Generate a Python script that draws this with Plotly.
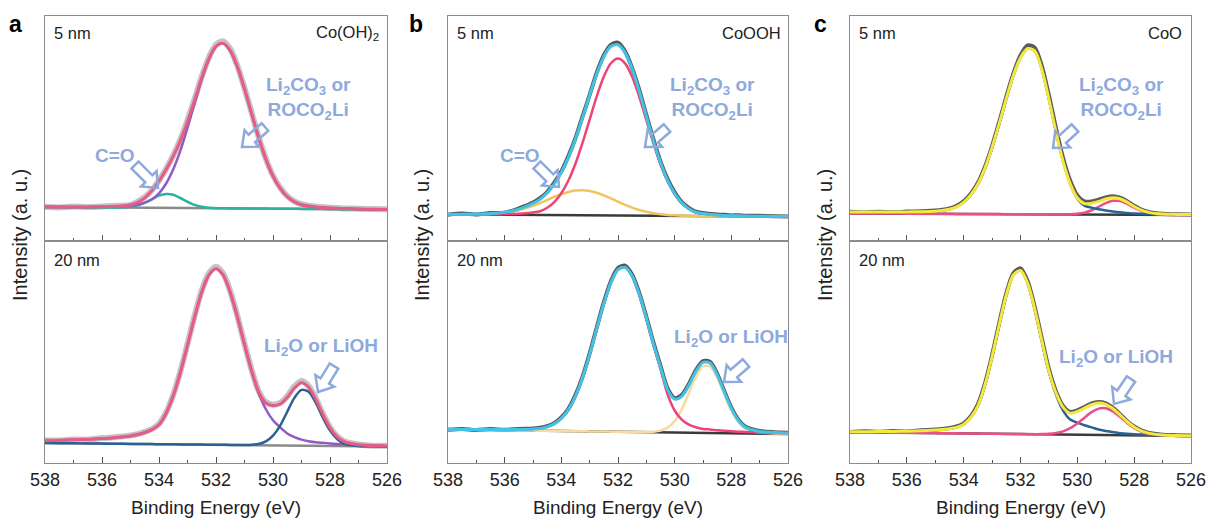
import math
import plotly.graph_objects as go

# ---------------- data (binding energy grid, eV) ----------------
X = [538, 537.5, 537, 536.5, 536, 535.5, 535, 534.75, 534.5, 534.25, 534, 533.75,
     533.5, 533.25, 533, 532.75, 532.5, 532.25, 532, 531.75, 531.5, 531.25, 531,
     530.75, 530.5, 530.25, 530, 529.75, 529.5, 529.25, 529, 528.75, 528.5, 528.25,
     528, 527.75, 527.5, 527, 526.5, 526]
BG_X = [538, 526]

# panel a, 5 nm (Co(OH)2)
A5_raw = [34.3, 33.6, 34.4, 33.9, 34.6, 35.2, 36.0, 39.3, 43.8, 50.9, 60.6, 72.3, 85.6, 101.5, 120.8, 142.1, 164.5, 183.6, 196.4, 199.6, 192.0, 175.2, 152.8, 128.5, 103.6, 82.3, 65.5, 53.4, 44.9, 39.7, 36.8, 35.3, 34.4, 33.9, 33.2, 33.0, 32.6, 32.3, 31.9, 31.7]
A5_env = [34.0, 33.9, 34.0, 34.1, 34.3, 34.7, 36.3, 38.6, 43.2, 50.2, 59.8, 71.4, 84.8, 100.4, 119.4, 141.0, 163.2, 182.3, 194.6, 197.6, 190.3, 174.3, 152.1, 127.4, 103.0, 81.8, 64.9, 52.7, 44.4, 39.2, 36.3, 34.9, 34.0, 33.5, 33.0, 32.7, 32.4, 32.0, 31.7, 31.5]
A5_main = [34.0, 33.9, 34.0, 34.1, 34.3, 34.6, 35.4, 36.3, 38.3, 41.7, 47.7, 57.5, 71.7, 90.4, 113.1, 137.8, 161.9, 181.8, 194.5, 197.6, 190.3, 174.3, 152.1, 127.4, 103.0, 81.8, 64.9, 52.7, 44.4, 39.2, 36.3, 34.9, 34.0, 33.5, 33.0, 32.7, 32.4, 32.0, 31.7, 31.5]
A5_co = [34.0, 33.9, 33.8, 33.7, 33.6, 33.6, 34.3, 35.6, 38.2, 41.7, 45.3, 47.0, 46.2, 43.0, 39.3, 36.1, 34.2, 33.25, 32.85, 32.7, 32.6, 32.6, 32.5, 32.5, 32.4, 32.4, 32.3, 32.3, 32.2, 32.2, 32.1, 32.1, 32.0, 32.0, 31.9, 31.9, 31.8, 31.7, 31.6, 31.5]
A5_bg = [34.0, 31.5]

# panel a, 20 nm
A20_raw = [22.8, 22.5, 23.6, 23.4, 24.9, 25.9, 27.6, 28.9, 31.1, 34.0, 39.2, 50.6, 68.3, 91.6, 119.2, 147.4, 172.5, 189.8, 196.3, 189.6, 171.8, 147.0, 119.3, 93.0, 71.8, 60.8, 58.3, 60.0, 66.8, 76.6, 82.0, 77.0, 64.6, 49.2, 35.7, 26.7, 21.8, 18.6, 17.2, 17.3]
A20_env = [22.5, 22.85, 23.2, 23.75, 24.4, 25.6, 27.1, 28.55, 30.5, 33.4, 38.3, 49.75, 67.2, 90.5, 117.85, 146.0, 170.9, 188.1, 194.25, 188.0, 170.6, 146.0, 118.55, 92.25, 71.06, 60.0, 57.5, 59.0, 65.5, 75.0, 80.3, 75.7, 63.8, 48.55, 35.1, 26.1, 21.3, 18.2, 17.45, 17.0]
A20_main = [22.5, 22.85, 23.2, 23.75, 24.4, 25.6, 27.1, 28.55, 30.5, 33.4, 38.3, 49.75, 67.2, 90.5, 117.85, 146.0, 170.9, 188.1, 194.25, 188.0, 170.6, 146.0, 118.5, 91.9, 69.8, 53.75, 42.7, 35.6, 29.5, 25.95, 23.4, 21.8, 20.7, 20.15, 19.6, 19.1, 18.7, 18.0, 17.45, 17.0]
A20_li = [20.0, 19.85, 19.7, 19.55, 19.4, 19.3, 19.1, 19.05, 19.0, 18.9, 18.8, 18.75, 18.7, 18.6, 18.55, 18.5, 18.4, 18.3, 18.25, 18.2, 18.1, 18.05, 18.0, 18.25, 19.06, 21.55, 27.3, 37.3, 51.3, 65.15, 73.1, 71.2, 60.3, 45.55, 32.6, 24.0, 19.5, 17.0, 16.65, 16.5]
A20_bg = [20.0, 16.5]

# panel b, 5 nm (CoOOH)
B5_raw = [26.3, 27.4, 26.5, 28.0, 28.3, 32.6, 38.4, 42.9, 49.0, 58.3, 69.6, 84.9, 103.0, 124.6, 146.3, 168.4, 185.8, 196.2, 198.4, 189.6, 172.9, 151.2, 126.1, 101.6, 79.3, 61.8, 48.6, 38.9, 33.2, 29.3, 27.9, 27.1, 26.4, 26.2, 25.6, 25.8, 25.3, 25.2, 24.8, 24.6]
B5_env = [26.8, 26.8, 26.95, 27.45, 28.75, 31.85, 37.6, 41.7, 48.2, 57.0, 68.7, 83.65, 102.15, 123.35, 145.7, 167.15, 184.4, 194.75, 196.3, 188.35, 172.15, 149.95, 125.0, 100.35, 78.45, 60.7, 47.45, 38.25, 32.35, 28.75, 27.4, 26.45, 25.9, 25.55, 25.3, 25.15, 25.0, 24.75, 24.55, 24.4]
B5_main = [26.8, 26.75, 26.75, 26.8, 26.9, 27.3, 28.6, 29.8, 33.2, 38.85, 47.7, 60.45, 77.5, 98.35, 121.5, 144.55, 164.4, 177.75, 182.5, 177.65, 164.2, 144.25, 121.1, 97.85, 76.9, 59.75, 46.9, 37.95, 32.2, 28.7, 27.4, 26.45, 25.9, 25.55, 25.3, 25.15, 25.0, 24.75, 24.55, 24.4]
B5_co = [26.7, 26.65, 26.7, 27.05, 28.15, 30.75, 35.1, 37.95, 41.0, 44.1, 46.9, 49.05, 50.45, 50.75, 49.9, 48.25, 45.6, 42.55, 39.3, 36.15, 33.35, 31.05, 29.2, 27.75, 26.75, 26.1, 25.65, 25.35, 25.15, 25.0, 24.9, 24.85, 24.8, 24.75, 24.7, 24.65, 24.6, 24.5, 24.4, 24.3]
B5_bg = [26.7, 24.3]

# panel b, 20 nm
B20_raw = [33.2, 34.1, 33.0, 33.9, 33.2, 34.0, 34.4, 35.3, 36.8, 39.9, 45.6, 54.2, 68.1, 86.4, 109.7, 135.5, 160.8, 181.7, 194.9, 197.4, 188.3, 170.2, 146.3, 120.6, 97.1, 74.6, 64.9, 67.9, 78.9, 92.9, 102.0, 101.0, 89.2, 71.9, 55.4, 43.3, 36.2, 32.1, 30.8, 30.3]
B20_env = [33.7, 33.6, 33.5, 33.45, 33.45, 33.55, 34.0, 34.6, 36.1, 39.2, 44.7, 53.35, 67.0, 85.5, 108.6, 134.35, 159.55, 180.45, 193.35, 195.75, 187.05, 169.05, 145.2, 119.4, 96.0, 73.4, 64.0, 66.7, 77.8, 91.7, 100.7, 99.95, 88.15, 70.95, 54.45, 42.55, 35.65, 31.6, 30.5, 29.9]
B20_main = [33.7, 33.6, 33.5, 33.45, 33.45, 33.55, 34.0, 34.6, 36.1, 39.2, 44.7, 53.35, 67.0, 85.5, 108.6, 134.35, 159.55, 180.45, 193.35, 195.75, 187.05, 169.05, 145.1, 118.9, 94.3, 68.6, 52.5, 43.4, 38.3, 35.7, 34.1, 33.55, 32.75, 32.15, 31.75, 31.35, 31.05, 30.6, 30.1, 29.7]
B20_li = [33.5, 33.3, 33.1, 32.95, 32.75, 32.55, 32.4, 32.3, 32.2, 32.1, 32.0, 31.9, 31.8, 31.7, 31.6, 31.55, 31.45, 31.35, 31.25, 31.15, 31.05, 30.95, 31.0, 31.3, 32.35, 35.4, 42.0, 53.7, 69.8, 86.2, 96.7, 96.45, 85.35, 68.65, 52.45, 40.85, 34.15, 30.4, 29.6, 29.2]
B20_bg = [33.5, 29.0]

# panel c, 5 nm (CoO)
C5_raw = [29.2, 28.6, 29.3, 28.7, 29.4, 29.8, 30.4, 31.2, 32.6, 35.3, 39.8, 47.3, 58.2, 74.3, 95.0, 119.0, 144.2, 167.6, 185.5, 195.6, 193.4, 175.0, 145.6, 112.6, 82.7, 60.3, 45.6, 39.5, 39.5, 41.3, 43.6, 44.8, 43.3, 39.8, 35.2, 31.5, 29.1, 27.2, 26.8, 26.5]
C5_env = [28.9, 28.9, 28.95, 28.95, 29.05, 29.3, 29.8, 30.45, 31.7, 34.2, 38.65, 46.1, 56.95, 72.95, 93.5, 117.45, 142.5, 165.7, 183.35, 192.5, 190.1, 171.55, 141.85, 108.85, 79.25, 57.15, 43.0, 37.35, 37.7, 39.6, 42.05, 43.35, 42.2, 38.9, 34.45, 30.9, 28.65, 26.9, 26.6, 26.4]
C5_main = [28.9, 28.9, 28.95, 28.95, 29.05, 29.3, 29.8, 30.45, 31.7, 34.2, 38.65, 46.1, 56.95, 72.95, 93.5, 117.45, 142.5, 165.7, 183.35, 192.5, 190.1, 171.55, 141.85, 108.85, 79.25, 56.95, 42.3, 35.45, 33.4, 31.85, 30.6, 29.55, 28.7, 28.1, 27.45, 27.2, 27.05, 26.75, 26.6, 26.4]
C5_li = [27.6, 27.55, 27.45, 27.4, 27.35, 27.25, 27.2, 27.15, 27.15, 27.1, 27.05, 27.05, 27.0, 26.95, 26.95, 26.9, 26.85, 26.85, 26.8, 26.75, 26.75, 26.7, 26.65, 26.65, 26.6, 26.75, 27.25, 28.4, 30.75, 34.2, 37.85, 40.15, 39.85, 37.1, 33.25, 29.95, 27.8, 26.3, 26.05, 26.0]
C5_bg = [27.6, 26.0]

# panel c, 20 nm
C20_raw = [31.0, 31.7, 31.2, 31.9, 31.6, 32.7, 33.5, 34.1, 35.0, 36.6, 39.7, 46.8, 58.6, 79.7, 107.9, 139.9, 169.6, 189.8, 194.6, 182.0, 156.3, 124.6, 93.9, 71.6, 57.0, 51.0, 52.6, 56.0, 59.6, 61.0, 59.7, 55.4, 48.9, 42.1, 36.5, 32.6, 30.2, 28.3, 27.8, 27.5]
C20_env = [31.3, 31.35, 31.4, 31.55, 31.8, 32.25, 32.9, 33.4, 34.25, 35.65, 38.55, 45.5, 57.2, 78.1, 106.25, 138.25, 168.0, 188.0, 192.45, 179.85, 154.25, 122.4, 91.9, 69.95, 55.65, 49.85, 51.5, 54.85, 58.35, 59.9, 58.7, 54.55, 48.15, 41.5, 36.0, 32.15, 29.85, 28.03, 27.55, 27.3]
C20_main = [31.3, 31.35, 31.4, 31.55, 31.8, 32.25, 32.9, 33.4, 34.25, 35.65, 38.55, 45.5, 57.2, 78.1, 106.25, 138.25, 168.0, 188.0, 192.45, 179.85, 154.2, 122.2, 91.35, 68.55, 52.45, 43.4, 40.3, 37.75, 35.65, 33.55, 32.0, 30.9, 29.85, 29.15, 28.7, 28.4, 28.15, 27.8, 27.55, 27.3]
C20_li = [30.8, 30.65, 30.5, 30.35, 30.2, 30.05, 29.9, 29.8, 29.75, 29.65, 29.55, 29.5, 29.4, 29.3, 29.25, 29.15, 29.1, 29.0, 28.95, 28.85, 28.85, 28.9, 29.2, 29.95, 31.65, 34.85, 39.5, 45.35, 50.85, 54.4, 54.7, 51.55, 46.15, 40.1, 35.0, 31.35, 29.25, 27.65, 27.25, 27.1]
C20_bg = [30.8, 27.1]

X_TICKS = [538, 536, 534, 532, 530, 528, 526]
PANEL_LETTERS = ["a", "b", "c"]
PHASES = ["Co(OH)<sub>2</sub>", "CoOOH", "CoO"]
THICK = ["5 nm", "20 nm"]
ANN_CARB = "Li<sub>2</sub>CO<sub>3</sub> or<br>ROCO<sub>2</sub>Li"
ANN_CO = "C=O"
ANN_LI = "Li<sub>2</sub>O or LiOH"

# ---------------- layout helpers ----------------
W, H = 1207, 522
FONT = "Liberation Sans, Arial, sans-serif"
ANN_COLOR = "#8EA9DB"


def px(x):
    return x / W


def py(y):
    return 1 - y / H


PANEL_X = [(45, 387), (448, 788), (850, 1191)]
ROW_Y = [(16, 241), (241, 463)]
ROW_RANGE = [225, 222]

# traces per subplot: (y, color, width, is_bg)
SUBPLOTS = [
    # panel a
    [(A5_raw, "#c4c4c4", 6, False), (A5_bg, "#8a8a8a", 2.5, True), (A5_co, "#2bb3a0", 2.5, False),
     (A5_main, "#8e5cc2", 2.5, False), (A5_env, "#ea5a86", 3, False)],
    [(A20_raw, "#c4c4c4", 6, False), (A20_bg, "#8a8a8a", 2.5, True), (A20_main, "#8e5cc2", 2.5, False),
     (A20_li, "#2a6294", 2.5, False), (A20_env, "#ea5a86", 3, False)],
    # panel b
    [(B5_bg, "#3a3a3a", 2.5, True), (B5_raw, "#555555", 4, False), (B5_co, "#f0c560", 2.5, False),
     (B5_main, "#ec4479", 2.5, False), (B5_env, "#41c3e6", 3, False)],
    [(B20_bg, "#3a3a3a", 2.5, True), (B20_raw, "#555555", 4, False), (B20_li, "#f9d9a2", 2.5, False),
     (B20_main, "#ec4479", 2.5, False), (B20_env, "#41c3e6", 3, False)],
    # panel c
    [(C5_bg, "#3a3a3a", 2.5, True), (C5_raw, "#5a5a5a", 4, False), (C5_li, "#ec4f86", 2.5, False),
     (C5_main, "#2a6294", 2.5, False), (C5_env, "#f3e83c", 3, False)],
    [(C20_bg, "#3a3a3a", 2.5, True), (C20_raw, "#5a5a5a", 4, False), (C20_main, "#2a6294", 2.5, False),
     (C20_li, "#ec4f86", 2.5, False), (C20_env, "#f3e83c", 3, False)],
]

fig = go.Figure()
layout = dict(width=W, height=H, margin=dict(l=0, r=0, t=0, b=0, pad=0), autosize=False,
              paper_bgcolor="white", plot_bgcolor="white", showlegend=False,
              font=dict(family=FONT, color="#222"))

for p in range(3):
    for r in range(2):
        i = p * 2 + r + 1
        xa = "x" if i == 1 else f"x{i}"
        ya = "y" if i == 1 else f"y{i}"
        for (yv, col, wd, is_bg) in SUBPLOTS[p * 2 + r]:
            xs = BG_X if is_bg else X
            fig.add_trace(go.Scatter(x=xs, y=yv, mode="lines", xaxis=xa, yaxis=ya,
                                     line=dict(color=col, width=wd, shape="linear" if is_bg else "spline",
                                               smoothing=0.8),
                                     hoverinfo="skip"))
        x0, x1 = PANEL_X[p]
        y0, y1 = ROW_Y[r]
        layout["xaxis" if i == 1 else f"xaxis{i}"] = dict(
            domain=[px(x0), px(x1)], range=[538, 526], anchor=ya, automargin=False,
            showline=True, mirror=True, linecolor="#8c8c8c", linewidth=1,
            ticks="inside", ticklen=6, tickcolor="#555", tickwidth=1,
            tickvals=X_TICKS, showticklabels=(r == 1),
            tickfont=dict(size=18, family=FONT, color="#222"),
            minor=dict(ticks="inside", dtick=1, tick0=526, ticklen=3, tickcolor="#555"),
            showgrid=False, zeroline=False, fixedrange=True)
        layout["yaxis" if i == 1 else f"yaxis{i}"] = dict(
            domain=[py(y1), py(y0)], range=[0, ROW_RANGE[r]], anchor=xa, automargin=False,
            showline=True, mirror=True, linecolor="#8c8c8c", linewidth=1,
            ticks="", showticklabels=False, showgrid=False, zeroline=False, fixedrange=True)

fig.update_layout(**layout)

annotations = []
shapes = []


def text(x, y, s, size=16, color="#222", xanchor="center", bold=False, angle=0, align="center"):
    annotations.append(dict(x=px(x), y=py(y), xref="paper", yref="paper", text=(f"<b>{s}</b>" if bold else s),
                            showarrow=False, xanchor=xanchor, yanchor="middle", textangle=angle, align=align,
                            font=dict(size=size, color=color, family=FONT)))


def hollow_arrow(tx, ty, hx, hy, lh=13, wh=22, ws=10):
    dx, dy = hx - tx, hy - ty
    L = math.hypot(dx, dy)
    ux, uy = dx / L, dy / L
    nx, ny = -uy, ux
    bx, by = tx + ux * (L - lh), ty + uy * (L - lh)
    pts = [(tx + nx * ws / 2, ty + ny * ws / 2), (bx + nx * ws / 2, by + ny * ws / 2),
           (bx + nx * wh / 2, by + ny * wh / 2), (hx, hy),
           (bx - nx * wh / 2, by - ny * wh / 2), (bx - nx * ws / 2, by - ny * ws / 2),
           (tx - nx * ws / 2, ty - ny * ws / 2)]
    path = "M " + " L ".join(f"{px(a):.5f},{py(b):.5f}" for a, b in pts) + " Z"
    shapes.append(dict(type="path", xref="paper", yref="paper", path=path,
                       line=dict(color=ANN_COLOR, width=2.5), fillcolor="rgba(0,0,0,0)", layer="above"))


# panel letters, labels
letter_x = [15, 416, 820]
ytitle_x = [20, 422, 825]
thick_x = [52, 455, 857]
phase_x = [381, 783, 1184]
for p in range(3):
    text(letter_x[p], 24, PANEL_LETTERS[p], size=23, bold=True, color="#000")
    text(ytitle_x[p], 235, "Intensity (a. u.)", size=20, angle=-90)
    text(thick_x[p], 33, THICK[0], size=16.5, xanchor="left")
    text(thick_x[p], 260, THICK[1], size=16.5, xanchor="left")
    text(phase_x[p], 33, PHASES[p], size=16.5, xanchor="right")
    cx = (PANEL_X[p][0] + PANEL_X[p][1]) / 2
    text(cx, 507, "Binding Energy (eV)", size=19)

# light-blue labels and arrows
text(115, 155, ANN_CO, size=19, color=ANN_COLOR, bold=True)
text(309, 98, ANN_CARB, size=19, color=ANN_COLOR, bold=True)
text(321, 347, ANN_LI, size=19, color=ANN_COLOR, bold=True)
text(520, 155, ANN_CO, size=19, color=ANN_COLOR, bold=True)
text(712, 98, ANN_CARB, size=19, color=ANN_COLOR, bold=True)
text(731, 338, ANN_LI, size=19, color=ANN_COLOR, bold=True)
text(1121, 98, ANN_CARB, size=19, color=ANN_COLOR, bold=True)
text(1116, 358, ANN_LI, size=19, color=ANN_COLOR, bold=True)

hollow_arrow(135, 165, 158, 188)
hollow_arrow(265, 127, 242, 147)
hollow_arrow(334, 366, 318, 392)
hollow_arrow(537, 165, 559, 187)
hollow_arrow(667, 128, 645, 147)
hollow_arrow(746, 363, 724, 382)
hollow_arrow(1075, 128, 1053, 148)
hollow_arrow(1131, 379, 1114, 404)

fig.update_layout(annotations=annotations, shapes=shapes)
fig.write_html("out.html", config={"displayModeBar": False, "staticPlot": True},
               post_script="document.body.style.margin='0px';document.body.style.overflow='hidden';")
